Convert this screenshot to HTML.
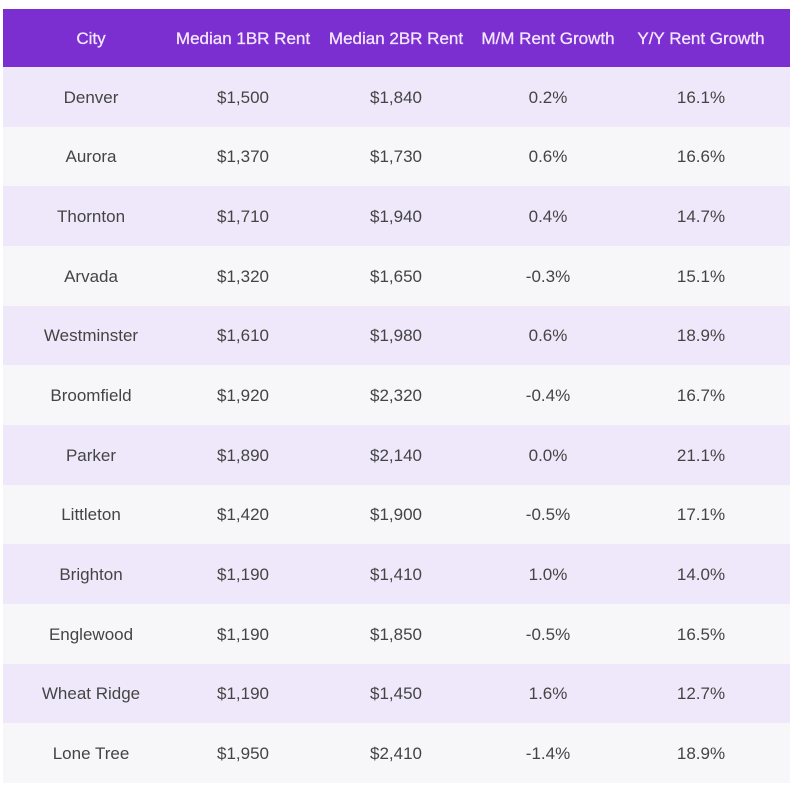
<!DOCTYPE html>
<html><head><meta charset="utf-8"><style>
body{margin:0;background:#fff;width:800px;height:791px;position:relative;font-family:"Liberation Sans",sans-serif;}
.t{position:absolute;left:3px;top:9px;width:787px;}
.r{position:relative;height:59.67px;}
.h{height:58px;background:#7b2fd0;color:#f3e6ff;font-size:17px;}
.r span{position:absolute;top:50%;transform:translate(-50%,calc(-50% + 1px));white-space:nowrap;}
.h span{-webkit-text-stroke:0.3px #f3e6ff;}
.d{color:#444;font-size:17px;}
.o{background:#efe8fa;}.e{background:#f7f6f9;}
</style></head><body><div class="t">
<div class="r h"><span style="left:88px">City</span><span style="left:240px">Median 1BR Rent</span><span style="left:393px">Median 2BR Rent</span><span style="left:545px">M/M Rent Growth</span><span style="left:698px">Y/Y Rent Growth</span></div>
<div class="r d o"><span style="left:88px">Denver</span><span style="left:240px">$1,500</span><span style="left:393px">$1,840</span><span style="left:545px">0.2%</span><span style="left:698px">16.1%</span></div>
<div class="r d e"><span style="left:88px">Aurora</span><span style="left:240px">$1,370</span><span style="left:393px">$1,730</span><span style="left:545px">0.6%</span><span style="left:698px">16.6%</span></div>
<div class="r d o"><span style="left:88px">Thornton</span><span style="left:240px">$1,710</span><span style="left:393px">$1,940</span><span style="left:545px">0.4%</span><span style="left:698px">14.7%</span></div>
<div class="r d e"><span style="left:88px">Arvada</span><span style="left:240px">$1,320</span><span style="left:393px">$1,650</span><span style="left:545px">-0.3%</span><span style="left:698px">15.1%</span></div>
<div class="r d o"><span style="left:88px">Westminster</span><span style="left:240px">$1,610</span><span style="left:393px">$1,980</span><span style="left:545px">0.6%</span><span style="left:698px">18.9%</span></div>
<div class="r d e"><span style="left:88px">Broomfield</span><span style="left:240px">$1,920</span><span style="left:393px">$2,320</span><span style="left:545px">-0.4%</span><span style="left:698px">16.7%</span></div>
<div class="r d o"><span style="left:88px">Parker</span><span style="left:240px">$1,890</span><span style="left:393px">$2,140</span><span style="left:545px">0.0%</span><span style="left:698px">21.1%</span></div>
<div class="r d e"><span style="left:88px">Littleton</span><span style="left:240px">$1,420</span><span style="left:393px">$1,900</span><span style="left:545px">-0.5%</span><span style="left:698px">17.1%</span></div>
<div class="r d o"><span style="left:88px">Brighton</span><span style="left:240px">$1,190</span><span style="left:393px">$1,410</span><span style="left:545px">1.0%</span><span style="left:698px">14.0%</span></div>
<div class="r d e"><span style="left:88px">Englewood</span><span style="left:240px">$1,190</span><span style="left:393px">$1,850</span><span style="left:545px">-0.5%</span><span style="left:698px">16.5%</span></div>
<div class="r d o"><span style="left:88px">Wheat Ridge</span><span style="left:240px">$1,190</span><span style="left:393px">$1,450</span><span style="left:545px">1.6%</span><span style="left:698px">12.7%</span></div>
<div class="r d e"><span style="left:88px">Lone Tree</span><span style="left:240px">$1,950</span><span style="left:393px">$2,410</span><span style="left:545px">-1.4%</span><span style="left:698px">18.9%</span></div>
</div></body></html>
